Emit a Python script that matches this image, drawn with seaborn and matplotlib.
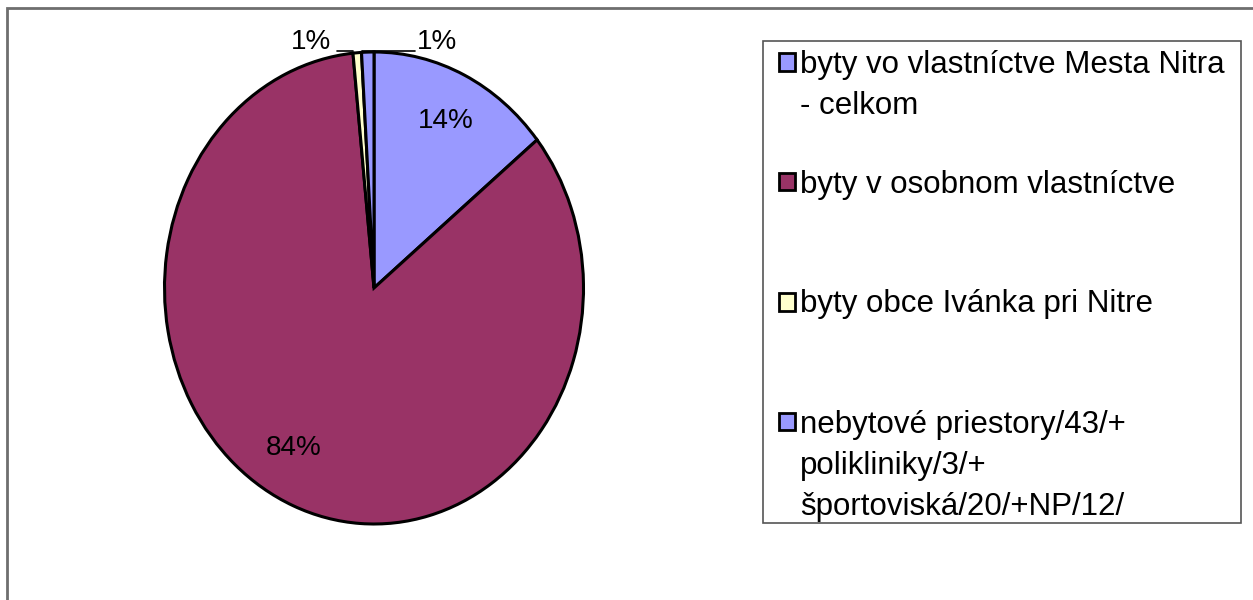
import matplotlib
matplotlib.use("Agg")
import matplotlib.pyplot as plt
import seaborn as sns
from matplotlib.patches import Rectangle

categories = [
    "byty vo vlastníctve Mesta Nitra\n- celkom",
    "byty v osobnom vlastníctve",
    "byty obce Ivánka pri Nitre",
    "nebytové priestory/43/+\npolikliniky/3/+\nšportoviská/20/+NP/12/",
]
values = [14.2, 84.2, 0.65, 0.95]
pct_labels = ["14%", "84%", "1%", "1%"]
colors = ["#9999FF", "#993366", "#FFFFCC", "#9999FF"]

sns.set_theme(style="white")
plt.rcParams["font.family"] = ["Liberation Sans", "DejaVu Sans"]

W, H = 1253, 600
fig = plt.figure(figsize=(W / 100, H / 100), dpi=100)
fig.patch.set_facecolor("white")

# outer chart frame (only top/left visible)
fig.patches.append(Rectangle((7 / W, -0.1), 1.2, (H - 8) / H + 0.1,
                             transform=fig.transFigure, fill=False,
                             edgecolor="#6e6e6e", linewidth=2))

# pie axes (ellipse: rx=209.5 px, ry=236 px, centre 374,288)
cx, cy, rx, ry = 374, 288, 209.5, 236
ax = fig.add_axes([(cx - rx) / W, (H - cy - ry) / H, 2 * rx / W, 2 * ry / H])
wedges, texts, autotexts = ax.pie(
    values, colors=colors, startangle=90, counterclock=False,
    autopct=lambda p: "", pctdistance=0.78,
    wedgeprops=dict(edgecolor="black", linewidth=2.2),
)
ax.set_aspect("auto")
ax.set_xlim(-1, 1)
ax.set_ylim(-1, 1)
ax.axis("off")

fs_pie = 20
fs = 22.5
label_pos = [(0.341, 0.706), (-0.384, -0.677), (-0.303, 1.043), (0.303, 1.043)]
for t, lab, pos in zip(autotexts, pct_labels, label_pos):
    t.set_text(lab)
    t.set_position(pos)
    t.set_fontsize(fs_pie)
    t.set_color("black")
    t.set_ha("center")
    t.set_va("center")
    t.set_clip_on(False)

# leader lines for small slices
ax.plot([-0.175, -0.101], [1.003, 1.003], color="black", lw=1.2, clip_on=False)
ax.plot([-0.057, 0.198], [1.003, 1.003], color="black", lw=1.2, clip_on=False)

# legend (manual, Excel-like even spacing)
lx0, ly0, lx1, ly1 = 763, 41, 1241, 523
fig.patches.append(Rectangle((lx0 / W, 1 - ly1 / H), (lx1 - lx0) / W, (ly1 - ly0) / H,
                             transform=fig.transFigure, fill=False,
                             edgecolor="#555555", linewidth=1.2))
starts = [63, 183, 303, 423]
for lab, col, y in zip(categories, colors, starts):
    fig.patches.append(Rectangle((778.5 / W, 1 - 70.5 / H - (y - 63) / H), 16.5 / W, 17.5 / H,
                                 transform=fig.transFigure, facecolor=col,
                                 edgecolor="black", linewidth=2))
    fig.text(800 / W, 1 - (y - 13.5) / H, lab, fontsize=fs, ha="left", va="top",
             linespacing=1.5, color="black")

fig.savefig("out.png", dpi=100)
